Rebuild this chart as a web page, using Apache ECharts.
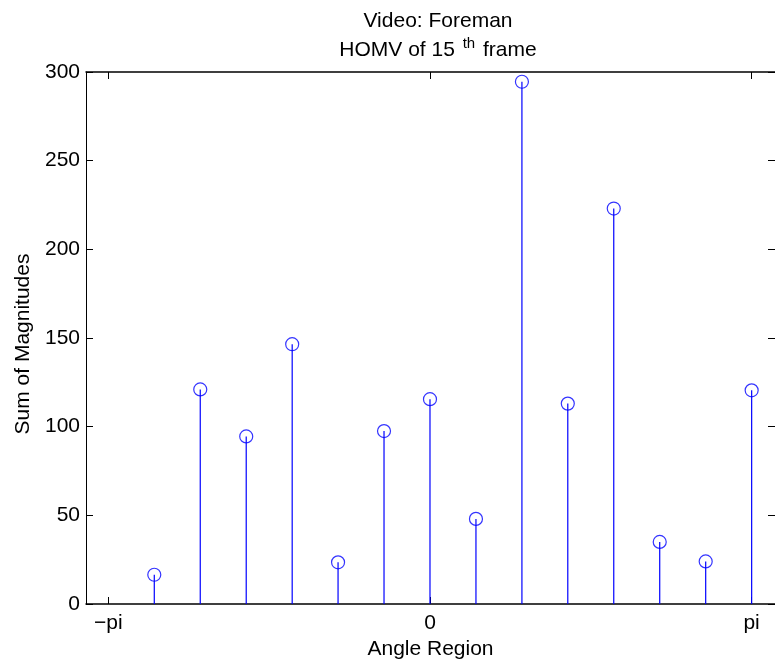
<!DOCTYPE html>
<html>
<head>
<meta charset="utf-8">
<script src="https://cdn.jsdelivr.net/npm/echarts@6/dist/echarts.min.js"></script>
<style>
html,body{margin:0;padding:0;background:#fff;}
#chart{width:775px;height:666px;}
</style>
</head>
<body>
<div id="chart"></div>
<script>
// Data
const angles = [-2.693, -2.244, -1.795, -1.346, -0.898, -0.449, 0, 0.449, 0.898, 1.346, 1.795, 2.244, 2.693, 3.142];
const magnitudes = [16.5, 121, 94.5, 146.5, 23.5, 97.5, 115.5, 48, 294.5, 113, 223, 35, 24, 120.5];
const xTickValues = [-3.1416, 0, 3.1416];
const xTickLabels = ['\u2212pi', '0', 'pi'];

const FONT = "'Liberation Sans', Arial, sans-serif";
const FS = 21;
const points = angles.map((a, i) => [a, magnitudes[i]]);

const chart = echarts.init(document.getElementById('chart'), null, {renderer: 'canvas'});
const xMin = -3.36, xMax = 3.37;
const lineStyle = {color: '#000', width: 1};
chart.setOption({
  animation: false,
  backgroundColor: '#fff',
  title: {
    text: 'Video: Foreman\nHOMV of 15 {sup|th} frame',
    left: 433,
    top: 2,
    textAlign: 'center',
    textStyle: {
      fontFamily: FONT, fontSize: FS, fontWeight: 'normal', color: '#000', lineHeight: 29,
      rich: {
        sup: {fontFamily: FONT, fontSize: 15, color: '#000', padding: [0, 2, 14, 2]}
      }
    }
  },
  grid: {left: 86, top: 72, right: -6, bottom: 62, containLabel: false},
  xAxis: [{
    type: 'value', position: 'bottom', min: xMin, max: xMax,
    name: 'Angle Region', nameLocation: 'middle', nameGap: 30,
    nameTextStyle: {fontFamily: FONT, fontSize: FS, color: '#000'},
    axisLine: {show: true, onZero: false, lineStyle: {color: '#000', width: 1.5}},
    axisTick: {show: true, inside: true, length: 7, customValues: xTickValues, lineStyle: lineStyle},
    axisLabel: {show: true, margin: 9, customValues: xTickValues,
      formatter: (v) => xTickLabels[xTickValues.findIndex(t => Math.abs(t - v) < 1e-3)] || '',
      fontFamily: FONT, fontSize: FS, color: '#000'},
    splitLine: {show: false}
  }, {
    type: 'value', position: 'top', min: xMin, max: xMax,
    axisLine: {show: true, onZero: false, lineStyle: {color: '#000', width: 1.5}},
    axisTick: {show: true, inside: true, length: 7, customValues: xTickValues, lineStyle: lineStyle},
    axisLabel: {show: false},
    splitLine: {show: false}
  }],
  yAxis: [{
    type: 'value', position: 'left', min: 0, max: 300, interval: 50,
    name: 'Sum of Magnitudes', nameLocation: 'middle', nameGap: 51, nameRotate: 90,
    nameTextStyle: {fontFamily: FONT, fontSize: FS, color: '#000', padding: [0, 12, 0, 0]},
    axisLine: {show: true, onZero: false, lineStyle: lineStyle},
    axisTick: {show: true, inside: true, length: 7, lineStyle: lineStyle},
    axisLabel: {show: true, margin: 6, fontFamily: FONT, fontSize: FS, color: '#000'},
    splitLine: {show: false}
  }, {
    type: 'value', position: 'right', min: 0, max: 300, interval: 50,
    axisLine: {show: true, onZero: false, lineStyle: lineStyle},
    axisTick: {show: true, inside: true, length: 7, lineStyle: lineStyle},
    axisLabel: {show: false},
    splitLine: {show: false}
  }],
  series: [{
    type: 'custom',
    xAxisIndex: 0, yAxisIndex: 0,
    data: points,
    clip: false,
    renderItem: function (params, api) {
      const b = api.coord([api.value(0), 0]);
      const t = api.coord([api.value(0), api.value(1)]);
      return {type: 'line', shape: {x1: b[0], y1: b[1], x2: t[0], y2: t[1]},
        style: {stroke: '#0000ff', lineWidth: 1.2}};
    },
    silent: true
  }, {
    type: 'scatter',
    xAxisIndex: 0, yAxisIndex: 0,
    data: points,
    symbol: 'circle',
    symbolSize: 13,
    itemStyle: {color: 'rgba(0,0,0,0)', borderColor: '#0000ff', borderWidth: 1.2},
    silent: true
  }]
});
</script>
</body>
</html>
